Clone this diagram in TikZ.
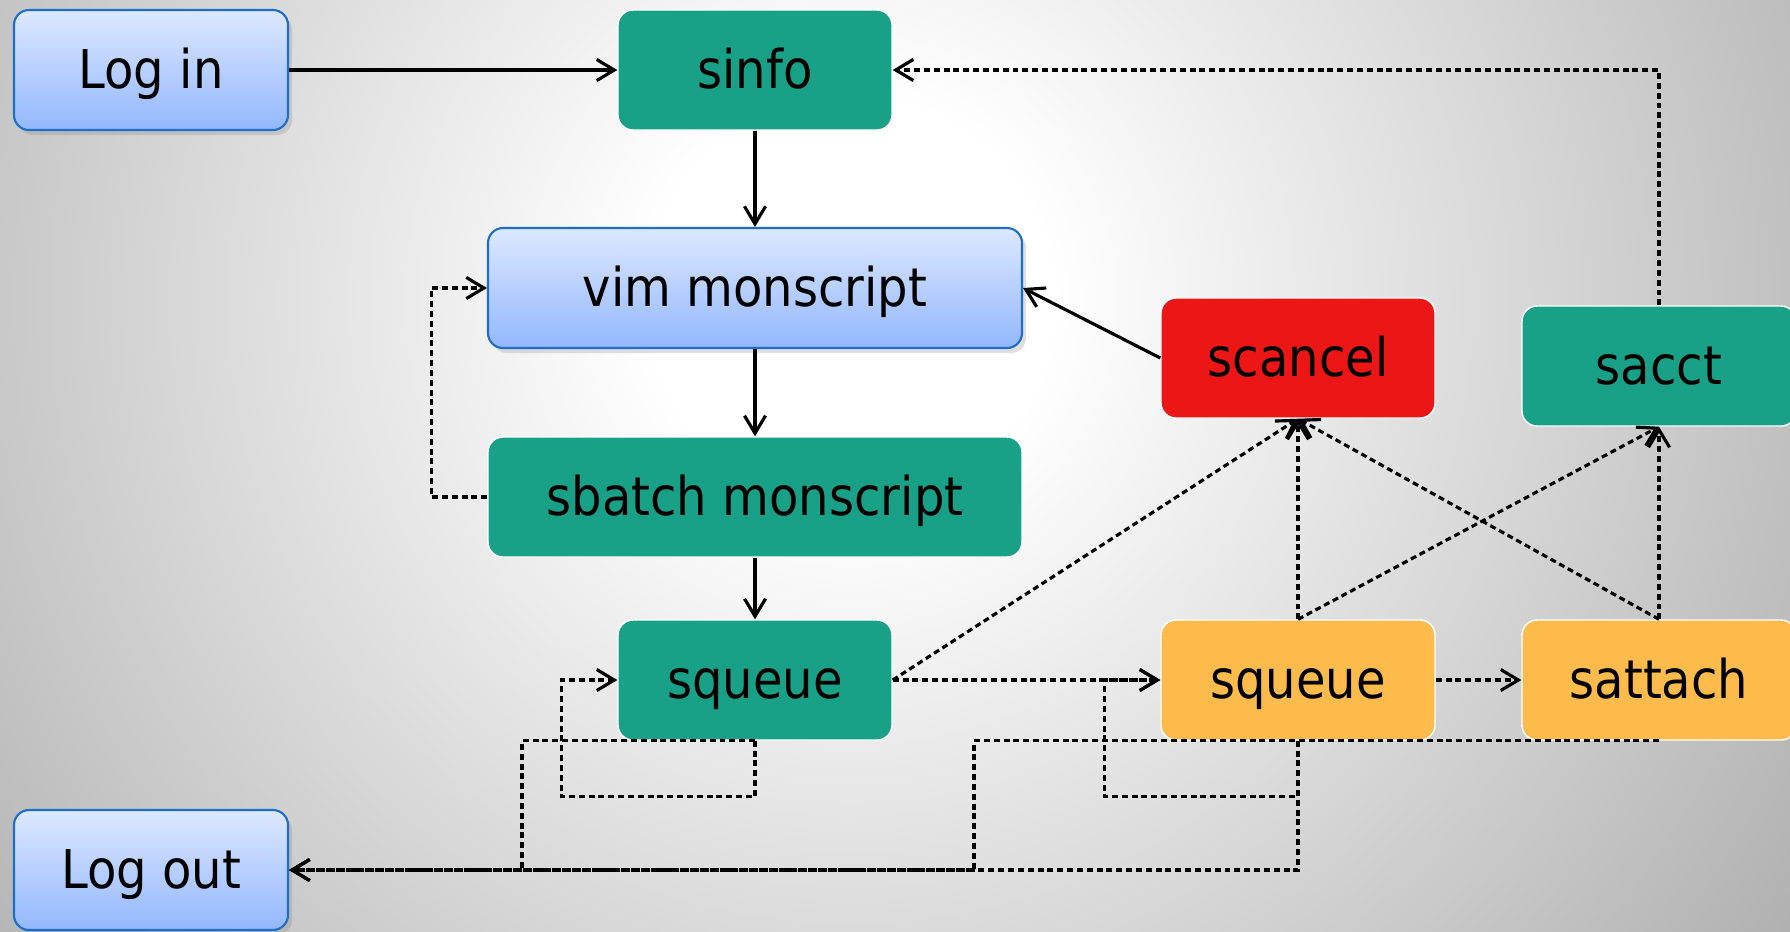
\documentclass[tikz,border=0pt]{standalone}
\usepackage{fontspec}
\setmainfont{DejaVu Sans}[FakeStretch=0.9]
\usetikzlibrary{positioning}
\usetikzlibrary{arrows.meta}
\usetikzlibrary{shadows}

\definecolor{jobteal}{HTML}{18A186}
\definecolor{jobred}{HTML}{EC1616}
\definecolor{joborange}{HTML}{FDBB4B}
\definecolor{userblue}{HTML}{1C6FC8}
\definecolor{bluetop}{HTML}{DDE8FF}
\definecolor{bluebottom}{HTML}{93B7FF}
\pgfdeclareradialshading{bgglow}{\pgfpoint{0bp}{0bp}}{color(0bp)=(white); color(4.2bp)=(white); color(25bp)=(black!33); color(50bp)=(black!33)}

\begin{document}
\begin{tikzpicture}[
  font=\fontsize{15.2}{18}\selectfont,
  box/.style={rounded corners=0.15cm, minimum width=2.74cm, minimum height=1.2cm, align=center,
    text height=0.36cm, text depth=0pt},
  user/.style={box, draw=userblue, line width=0.6pt, top color=bluetop, bottom color=bluebottom,
    drop shadow={opacity=0.25, shadow xshift=0.04cm, shadow yshift=-0.05cm}},
  cmd/.style={box, draw=white, thin, fill=#1}, cmd/.default=jobteal,
  wide/.style={minimum width=5.34cm},
  link/.style={-{Straight Barb[length=5pt,width=6pt]}, line width=0.9pt},
  maybe/.style={link, dash pattern=on 1.7pt off 1.1pt}
]
  \useasboundingbox (0,0) rectangle (17.9,-9.31);
  \begin{scope}
    \clip (0,0) rectangle (17.9,-9.31);
    \shade[shading=bgglow] (8.5,-3) circle (12);
  \end{scope}

  \node[user] (login) at (1.51,-0.70) {Log in};
  \node[cmd, right of=login, xshift=5.04cm] (sinfo) {sinfo};
  \node[user, wide, below of=sinfo, yshift=-1.18cm] (vim) {vim monscript};
  \node[cmd, wide, below of=vim, yshift=-1.09cm] (sbatch) {sbatch monscript};
  \node[cmd, below of=sbatch, yshift=-0.83cm] (squeuea) {squeue};
  \node[cmd=joborange, right of=squeuea, xshift=4.43cm] (squeueb) {squeue};
  \node[cmd=joborange, right of=squeueb, xshift=2.61cm] (sattach) {sattach};
  \node[cmd=jobred, above of=squeueb, yshift=2.22cm] (scancel) {scancel};
  \node[cmd, above of=sattach, yshift=2.14cm] (sacct) {sacct};
  \node[user, below of=login, yshift=-7cm] (logout) {Log out};

  \draw[link] (login.east) -- (sinfo.west);
  \draw[link] (sinfo) -- (vim);
  \draw[link] (vim) -- (sbatch);
  \draw[link] (sbatch) -- (squeuea);
  \draw[link] (scancel.west) -- (vim.east);
  \draw[maybe] (sbatch.west) -- ++(-0.56,0) |- (vim.west);
  \draw[maybe] (sacct.north) |- (sinfo.east);
  \draw[maybe] (squeuea.east) -- (scancel.south);
  \draw[maybe] (squeuea.east) -- (squeueb.west);
  \draw[maybe] (squeuea.south) -- ++(0,-0.56) -| ([xshift=-0.56cm]squeuea.west) -- (squeuea.west);
  \draw[maybe] (squeuea.south) -- ++(-2.33,0) |- (logout.east);
  \draw[maybe] (squeueb.south) -- ++(0,-0.56) -| ([xshift=-0.56cm]squeueb.west) -- (squeueb.west);
  \draw[maybe] (squeueb.south) |- (logout.east);
  \draw[maybe] (sattach.south) -- ++(-6.85,0) |- (logout.east);
  \draw[maybe] (squeueb.north) -- (scancel.south);
  \draw[maybe] (squeueb.north) -- (sacct.south);
  \draw[maybe] (sattach.north) -- (scancel.south);
  \draw[maybe] (sattach.north) -- (sacct.south);
  \draw[maybe] (squeueb.east) -- (sattach.west);
\end{tikzpicture}
\end{document}
